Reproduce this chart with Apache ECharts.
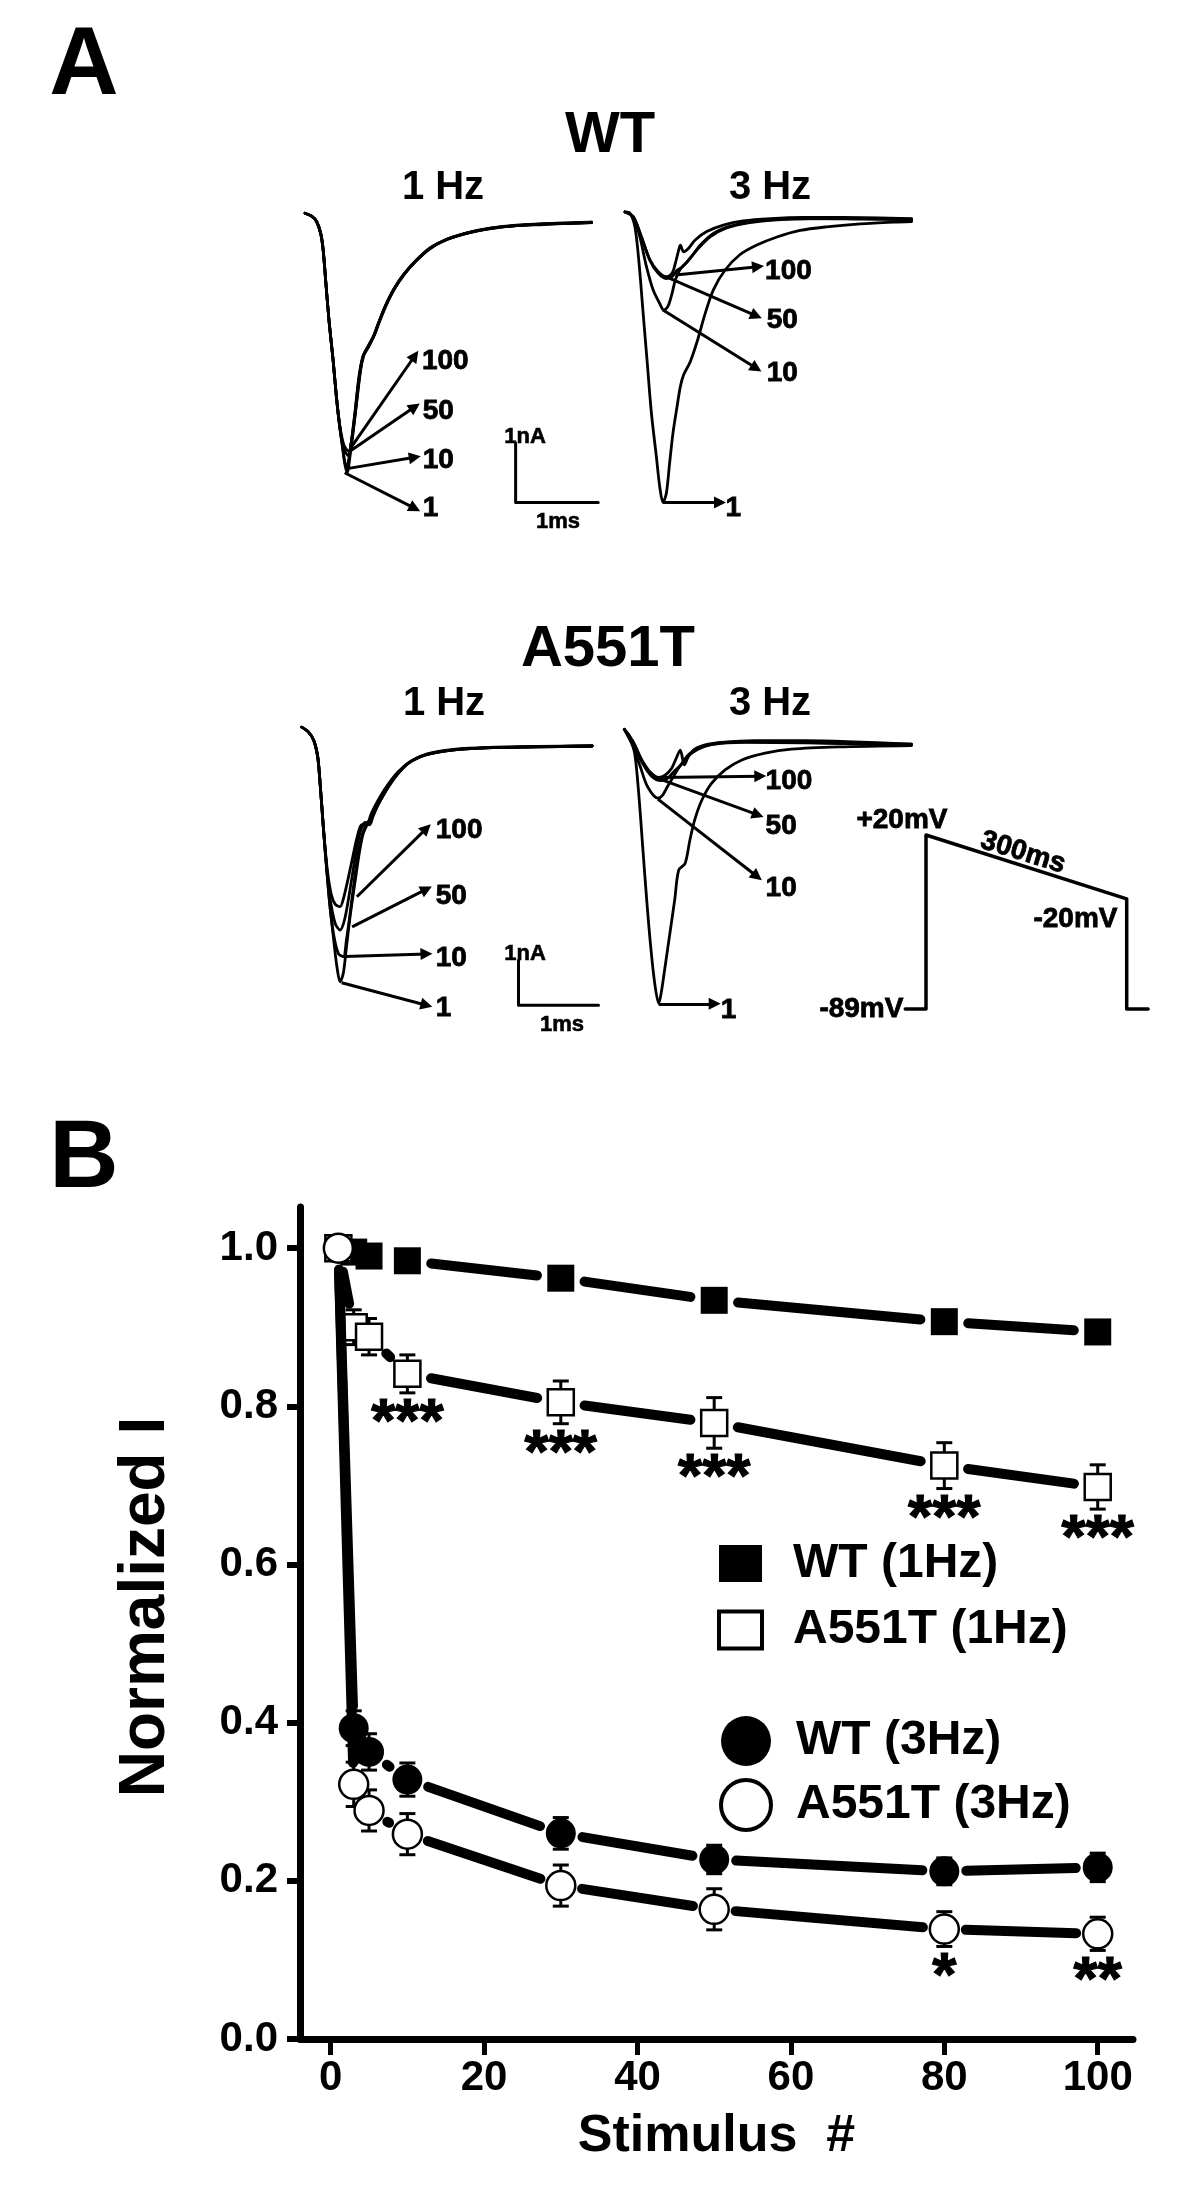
<!DOCTYPE html>
<html><head><meta charset="utf-8">
<script src="https://cdn.jsdelivr.net/npm/echarts@6/dist/echarts.min.js"></script>
<style>html,body{margin:0;padding:0;background:#fff}#chart{width:1200px;height:2201px}</style>
</head><body><div id="chart"></div>
<script>
const FONT = "'Liberation Sans', Arial, Helvetica, sans-serif";

// ---------------- Panel B data ----------------
const stimulus = [1, 3, 5, 10, 30, 50, 80, 100];
const xTicks = [0, 20, 40, 60, 80, 100];
const yTicks = [0, 0.2, 0.4, 0.6, 0.8, 1.0];
const wt1HzMean    = [1.000, 0.995, 0.990, 0.984, 0.962, 0.934, 0.907, 0.894];
const wt1HzSem     = [0, 0.005, 0.006, 0.007, 0.009, 0.008, 0.008, 0.008];
const a551t1HzMean = [1.000, 0.900, 0.888, 0.841, 0.805, 0.779, 0.725, 0.698];
const a551t1HzSem  = [0, 0.022, 0.023, 0.024, 0.027, 0.032, 0.029, 0.028];
const wt3HzMean    = [1.000, 0.393, 0.363, 0.328, 0.260, 0.227, 0.212, 0.217];
const wt3HzSem     = [0, 0.022, 0.023, 0.021, 0.020, 0.018, 0.017, 0.018];
const a551t3HzMean = [1.000, 0.322, 0.289, 0.259, 0.194, 0.164, 0.139, 0.133];
const a551t3HzSem  = [0, 0.028, 0.026, 0.026, 0.026, 0.026, 0.022, 0.021];
const starsA551T1Hz = [[10, '***'], [30, '***'], [50, '***'], [80, '***'], [100, '***']];
const starsA551T3Hz = [[80, '*'], [100, '**']];

// ---------------- Panel A data (time in ms, current in nA) ----------------
const wt1Hz_1 = [[0,0.16],[0.08,0.11],[0.14,0.02],[0.19,-0.18],[0.22,-0.46],[0.25,-0.97],[0.29,-1.64],[0.34,-2.31],[0.38,-2.93],[0.42,-3.43],[0.46,-3.83],[0.48,-4.05],[0.51,-4.21],[0.55,-3.88],[0.61,-3.21],[0.66,-2.59],[0.70,-2.26],[0.77,-2.09],[0.83,-1.92],[0.89,-1.69],[0.97,-1.41],[1.07,-1.13],[1.19,-0.88],[1.33,-0.66],[1.51,-0.43],[1.72,-0.28],[1.96,-0.17],[2.24,-0.09],[2.56,-0.05],[2.89,-0.02],[3.21,-0.01],[3.47,0]];
const wt1Hz_10 = [[0,0.16],[0.08,0.11],[0.14,0.02],[0.19,-0.18],[0.22,-0.46],[0.25,-0.97],[0.29,-1.64],[0.34,-2.31],[0.38,-2.93],[0.42,-3.43],[0.46,-3.83],[0.50,-4.13],[0.54,-3.90],[0.60,-3.25],[0.65,-2.62],[0.70,-2.26],[0.77,-2.08],[0.83,-1.91],[0.89,-1.69],[0.97,-1.41],[1.07,-1.14],[1.19,-0.89],[1.33,-0.66],[1.51,-0.44],[1.72,-0.28],[1.96,-0.18],[2.24,-0.10],[2.56,-0.05],[2.89,-0.03],[3.21,-0.01],[3.47,0]];
const wt1Hz_50 = [[0,0.16],[0.08,0.11],[0.14,0.02],[0.19,-0.18],[0.22,-0.46],[0.25,-0.97],[0.29,-1.64],[0.34,-2.31],[0.38,-2.93],[0.42,-3.43],[0.47,-3.80],[0.52,-3.92],[0.56,-3.70],[0.61,-3.15],[0.66,-2.56],[0.71,-2.24],[0.77,-2.06],[0.84,-1.89],[0.90,-1.67],[0.98,-1.40],[1.08,-1.12],[1.20,-0.87],[1.34,-0.65],[1.52,-0.43],[1.73,-0.28],[1.97,-0.17],[2.25,-0.10],[2.56,-0.05],[2.89,-0.02],[3.21,-0.01],[3.47,0.01]];
const wt1Hz_100 = [[0,0.16],[0.08,0.11],[0.14,0.02],[0.19,-0.18],[0.22,-0.46],[0.25,-0.97],[0.29,-1.64],[0.34,-2.31],[0.38,-2.93],[0.42,-3.40],[0.47,-3.74],[0.53,-3.85],[0.57,-3.62],[0.62,-3.08],[0.67,-2.52],[0.71,-2.22],[0.78,-2.05],[0.84,-1.88],[0.90,-1.66],[0.98,-1.39],[1.08,-1.11],[1.20,-0.86],[1.34,-0.64],[1.52,-0.42],[1.73,-0.27],[1.97,-0.17],[2.25,-0.09],[2.56,-0.04],[2.89,-0.02],[3.21,0],[3.47,0.01]];
const wt1HzArrows = [[0.55,-3.80,1.33,-2.24],[0.53,-3.86,1.33,-3.10],[0.51,-4.14,1.33,-3.95],[0.48,-4.21,1.33,-4.81]];
const wt1HzLabels = [[1.41,-2.34,'100'],[1.42,-3.18,'50'],[1.42,-4.00,'10'],[1.42,-4.80,'1']];
const wtScaleBar = [[2.55,-3.71],[2.55,-4.71],[3.55,-4.71]];

const wt3Hz_1 = [[0,0.18],[0.06,0.16],[0.12,-0.07],[0.17,-0.68],[0.22,-1.53],[0.27,-2.37],[0.32,-3.21],[0.38,-3.94],[0.42,-4.44],[0.46,-4.71],[0.50,-4.56],[0.54,-4.05],[0.58,-3.55],[0.63,-3.10],[0.67,-2.76],[0.71,-2.56],[0.79,-2.34],[0.88,-1.97],[0.97,-1.53],[1.07,-1.13],[1.21,-0.80],[1.39,-0.54],[1.59,-0.38],[1.84,-0.24],[2.12,-0.13],[2.44,-0.07],[2.85,-0.02],[3.25,0.01],[3.47,0.02]];
const wt3Hz_10 = [[0,0.18],[0.10,0.10],[0.18,-0.24],[0.26,-0.74],[0.34,-1.13],[0.42,-1.36],[0.47,-1.47],[0.52,-1.41],[0.57,-1.19],[0.61,-0.96],[0.67,-0.78],[0.75,-0.66],[0.87,-0.46],[1.03,-0.24],[1.23,-0.09],[1.51,0],[1.84,0.05],[2.24,0.07],[2.85,0.06],[3.47,0.05]];
const wt3Hz_50 = [[0,0.18],[0.10,0.10],[0.20,-0.24],[0.30,-0.63],[0.40,-0.85],[0.50,-0.94],[0.57,-0.91],[0.63,-0.80],[0.69,-0.75],[0.79,-0.60],[0.91,-0.38],[1.07,-0.18],[1.27,-0.06],[1.55,0.02],[1.92,0.06],[2.44,0.07],[3.47,0.06]];
const wt3Hz_100 = [[0,0.18],[0.10,0.10],[0.20,-0.25],[0.30,-0.62],[0.40,-0.82],[0.50,-0.91],[0.57,-0.85],[0.61,-0.68],[0.65,-0.46],[0.67,-0.38],[0.71,-0.49],[0.77,-0.43],[0.85,-0.29],[0.99,-0.15],[1.19,-0.04],[1.43,0.03],[1.76,0.07],[2.16,0.09],[2.64,0.09],[3.47,0.07]];
const wt3HzArrows = [[0.61,-0.88,1.61,-0.74],[0.50,-0.91,1.59,-1.57],[0.46,-1.47,1.59,-2.45],[0.46,-4.71,1.15,-4.71]];
const wt3HzLabels = [[1.69,-0.82,'100'],[1.71,-1.64,'50'],[1.71,-2.53,'10'],[1.21,-4.81,'1']];

const a1Hz_1 = [[0,0.42],[0.08,0.32],[0.15,0.13],[0.20,-0.24],[0.23,-0.83],[0.27,-1.79],[0.31,-2.68],[0.35,-3.50],[0.40,-4.31],[0.44,-4.90],[0.48,-5.24],[0.52,-5.05],[0.56,-4.46],[0.61,-3.72],[0.67,-2.98],[0.72,-2.38],[0.77,-1.94],[0.85,-1.64],[0.94,-1.35],[1.04,-1.02],[1.17,-0.68],[1.33,-0.38],[1.54,-0.20],[1.88,-0.09],[2.29,-0.04],[2.92,-0.02],[3.63,0]];
const a1Hz_10 = [[0,0.42],[0.08,0.32],[0.15,0.13],[0.20,-0.24],[0.23,-0.83],[0.27,-1.79],[0.31,-2.68],[0.35,-3.50],[0.40,-4.20],[0.46,-4.62],[0.52,-4.68],[0.56,-4.30],[0.61,-3.65],[0.66,-2.95],[0.71,-2.35],[0.76,-1.95],[0.82,-1.70],[0.88,-1.60],[0.95,-1.32],[1.05,-1.00],[1.18,-0.66],[1.34,-0.37],[1.55,-0.20],[1.89,-0.09],[2.30,-0.04],[2.92,-0.02],[3.63,0]];
const a1Hz_50 = [[0,0.42],[0.08,0.32],[0.15,0.13],[0.20,-0.24],[0.23,-0.83],[0.27,-1.79],[0.31,-2.68],[0.36,-3.45],[0.42,-3.95],[0.48,-4.09],[0.53,-3.90],[0.58,-3.45],[0.63,-2.90],[0.68,-2.35],[0.73,-1.92],[0.79,-1.70],[0.85,-1.75],[0.90,-1.50],[0.98,-1.22],[1.08,-0.92],[1.21,-0.60],[1.37,-0.34],[1.58,-0.18],[1.92,-0.08],[2.33,-0.04],[2.95,-0.02],[3.63,0]];
const a1Hz_100 = [[0,0.42],[0.08,0.32],[0.15,0.13],[0.20,-0.24],[0.23,-0.83],[0.27,-1.79],[0.32,-2.75],[0.37,-3.30],[0.42,-3.52],[0.48,-3.57],[0.52,-3.40],[0.58,-2.95],[0.64,-2.45],[0.69,-2.05],[0.75,-1.75],[0.81,-1.75],[0.87,-1.50],[0.95,-1.22],[1.06,-0.90],[1.20,-0.58],[1.37,-0.33],[1.58,-0.17],[1.92,-0.07],[2.33,-0.03],[2.95,-0.01],[3.63,0]];
const a1HzArrows = [[0.69,-3.35,1.56,-1.83],[0.63,-4.02,1.56,-3.18],[0.54,-4.68,1.56,-4.62],[0.50,-5.26,1.56,-5.76]];
const a1HzLabels = [[1.67,-1.88,'100'],[1.67,-3.35,'50'],[1.67,-4.72,'10'],[1.67,-5.83,'1']];
const a551tScaleBar = [[2.71,-4.76],[2.71,-5.76],[3.71,-5.76]];

const a3Hz_1 = [[0,0.37],[0.07,0.21],[0.13,-0.16],[0.18,-1.05],[0.23,-2.24],[0.28,-3.42],[0.33,-4.46],[0.38,-5.27],[0.43,-5.72],[0.46,-5.50],[0.51,-4.90],[0.57,-4.16],[0.63,-3.42],[0.68,-2.76],[0.76,-2.61],[0.82,-2.09],[0.88,-1.64],[0.97,-1.20],[1.09,-0.83],[1.26,-0.53],[1.47,-0.31],[1.76,-0.16],[2.09,-0.07],[2.68,-0.02],[3.59,0.01]];
const a3Hz_10 = [[0,0.37],[0.09,0.06],[0.20,-0.46],[0.29,-0.90],[0.42,-1.16],[0.48,-1.09],[0.54,-0.90],[0.60,-0.72],[0.69,-0.46],[0.81,-0.20],[1.00,-0.01],[1.25,0.08],[1.63,0.12],[2.25,0.12],[3.59,0.04]];
const a3Hz_50 = [[0,0.37],[0.11,0.04],[0.23,-0.39],[0.34,-0.67],[0.46,-0.77],[0.54,-0.72],[0.63,-0.55],[0.71,-0.42],[0.78,-0.24],[0.88,-0.09],[1.09,0.03],[1.51,0.08],[2.26,0.07],[3.59,0.03]];
const a3Hz_100 = [[0,0.37],[0.11,0.10],[0.22,-0.31],[0.32,-0.57],[0.43,-0.70],[0.51,-0.65],[0.59,-0.50],[0.65,-0.27],[0.70,-0.09],[0.75,-0.42],[0.80,-0.24],[0.88,-0.07],[1.05,0.04],[1.34,0.09],[1.84,0.09],[2.68,0.06],[3.59,0.04]];
const a3HzArrows = [[0.45,-0.70,1.70,-0.67],[0.42,-0.72,1.67,-1.53],[0.42,-1.18,1.66,-2.90],[0.43,-5.73,1.13,-5.73]];
const a3HzLabels = [[1.76,-0.79,'100'],[1.76,-1.78,'50'],[1.76,-3.16,'10'],[1.20,-5.87,'1']];

// voltage protocol (ms, mV)
const protocolTrace = [[-31,-89],[0,-89],[0,20],[300,-20],[300,-89],[332,-89]];
const protocolLabels = [['+20mV',-36,29],['300ms',145,9],['-20mV',287,-33],['-89mV',-33,-89]];

// ---------------- builders ----------------
const protocolLabelLayout = [
  {position:'inside'},
  {position:'inside', rotate:-17},
  {position:'left', distance:0},
  {position:'left', distance:0}
];
const heavy = {textBorderColor:'#000', textBorderWidth:0.8, opacity:1};
const invisible = {color:'rgba(0,0,0,0)', opacity:1, borderWidth:0};

function traceSeries(g, data, width, smooth) {
  return {type:'line', xAxisIndex:g, yAxisIndex:g, data, symbol:'none', showSymbol:false,
    smooth: smooth === undefined ? 0.3 : smooth, clip:false, silent:true, z:2,
    lineStyle:{color:'#000', width: width || 2.8, cap:'round', join:'round', opacity:1}};
}
function arrowSeries(g, arrows) {
  return {type:'lines', coordinateSystem:'cartesian2d', xAxisIndex:g, yAxisIndex:g, silent:true, z:3,
    data: arrows.map(a => ({coords:[[a[0],a[1]],[a[2],a[3]]]})),
    symbol:['none','triangle'], symbolSize:[0,12],
    lineStyle:{color:'#000', width:3, opacity:1, curveness:0}};
}
function labelSeries(g, labels) {
  return {type:'scatter', xAxisIndex:g, yAxisIndex:g, symbolSize:1, silent:true, z:4,
    itemStyle:invisible,
    data: labels.map(l => ({value:[l[0], l[1]], name:l[2]})),
    label:Object.assign({show:true, formatter: p => p.name, position:'right', distance:0,
      color:'#000', fontFamily:FONT, fontWeight:'bold', fontSize:28}, heavy)};
}
function connector(mean, r, z) {
  const data = stimulus.slice(0, -1).map((x, i) => [x, mean[i], stimulus[i+1], mean[i+1]]);
  return {type:'custom', xAxisIndex:5, yAxisIndex:5, z, silent:true, data,
    encode:{x:[0,2], y:[1,3]},
    renderItem(params, api) {
      const p0 = api.coord([api.value(0), api.value(1)]);
      const p1 = api.coord([api.value(2), api.value(3)]);
      const dx = p1[0]-p0[0], dy = p1[1]-p0[1];
      const L = Math.sqrt(dx*dx + dy*dy);
      const s = r + 7;
      if (L - 2*s <= 0) return null;
      const ux = dx/L, uy = dy/L;
      return {type:'line', shape:{x1:p0[0]+ux*s, y1:p0[1]+uy*s, x2:p1[0]-ux*s, y2:p1[1]-uy*s},
        style:{stroke:'#000', lineWidth:10, lineCap:'round'}};
    }};
}
function errorBars(mean, sem, z) {
  const data = stimulus.map((x, i) => [x, mean[i]-sem[i], mean[i]+sem[i]]).filter((d, i) => sem[i] > 0);
  return {type:'custom', xAxisIndex:5, yAxisIndex:5, z, silent:true, data,
    encode:{x:0, y:[1,2]},
    renderItem(params, api) {
      const lo = api.coord([api.value(0), api.value(1)]);
      const hi = api.coord([api.value(0), api.value(2)]);
      const w = 8;
      const st = () => ({stroke:'#000', lineWidth:3});
      return {type:'group', children:[
        {type:'line', shape:{x1:lo[0], y1:lo[1], x2:hi[0], y2:hi[1]}, style:st()},
        {type:'line', shape:{x1:lo[0]-w, y1:lo[1], x2:lo[0]+w, y2:lo[1]}, style:st()},
        {type:'line', shape:{x1:hi[0]-w, y1:hi[1], x2:hi[0]+w, y2:hi[1]}, style:st()}
      ]};
    }};
}
function markers(name, mean, symbol, size, filled, z) {
  return {type:'scatter', name, xAxisIndex:5, yAxisIndex:5, z, silent:true,
    data: stimulus.map((x, i) => [x, mean[i]]), symbol, symbolSize:size,
    itemStyle: filled ? {color:'#000', borderColor:'#000', borderWidth:0, opacity:1}
                      : {color:'#fff', borderColor:'#000', borderWidth:2.5, opacity:1}};
}
function starSeries(stars, mean, sem) {
  return {type:'scatter', xAxisIndex:5, yAxisIndex:5, symbolSize:1, silent:true, z:20,
    itemStyle:invisible,
    data: stars.map(([x, t]) => { const i = stimulus.indexOf(x); return {value:[x, mean[i]-sem[i]], name:t}; }),
    label:{show:true, formatter: p => p.name, position:'inside', offset:[0,31],
      color:'#000', fontFamily:FONT, fontWeight:'bold', fontSize:62, opacity:1,
      textBorderColor:'#000', textBorderWidth:1.2}};
}
function hiddenAxis(g, min, max) { return {gridIndex:g, type:'value', min, max, show:false, splitLine:{show:false}}; }
function gtext(text, x, y, size, border) {
  return {type:'text', x, y, silent:true, z:50,
    style:{text, fill:'#000', fontSize:size, fontWeight:'bold', fontFamily:FONT,
      stroke: border ? '#000' : null, lineWidth: border || 0,
      align:'center', verticalAlign:'middle', textAlign:'center', textVerticalAlign:'middle'}};
}

const protocolSeries = {type:'scatter', xAxisIndex:4, yAxisIndex:4, symbolSize:1, silent:true, z:4,
  itemStyle:invisible,
  data: protocolLabels.map((l, i) => ({value:[l[1], l[2]], name:l[0],
    label: Object.assign({show:true, formatter: p => p.name, color:'#000', fontFamily:FONT, fontWeight:'bold', fontSize:28}, heavy, protocolLabelLayout[i])}))};

const axisText = {color:'#000', fontFamily:FONT, fontWeight:'bold'};

const option = {
  animation:false,
  backgroundColor:'#fff',
  textStyle:{fontFamily:FONT},
  grid:[
    {left:305, top:207.85, width:297.36, height:311.85, containLabel:false, outerBoundsMode:'none'},
    {left:625, top:207.85, width:297.36, height:311.85, containLabel:false, outerBoundsMode:'none'},
    {left:301.7, top:723.5, width:304, height:301.5, containLabel:false, outerBoundsMode:'none'},
    {left:624.3, top:723.5, width:304, height:301.5, containLabel:false, outerBoundsMode:'none'},
    {left:899.24, top:819.08, width:254.22, height:207.48, containLabel:false, outerBoundsMode:'none'},
    {left:300, top:1207, width:833, height:832, containLabel:false, outerBoundsMode:'none'}
  ],
  xAxis:[
    hiddenAxis(0, 0, 3.6), hiddenAxis(1, 0, 3.6), hiddenAxis(2, 0, 3.8), hiddenAxis(3, 0, 3.8), hiddenAxis(4, -40, 340),
    {gridIndex:5, type:'value', min:-4, max:104.6,
      name:'Stimulus  #', nameLocation:'middle', nameGap:72,
      nameTextStyle:Object.assign({fontSize:52}, axisText),
      axisLine:{show:true, onZero:false, lineStyle:{color:'#000', width:7}},
      axisTick:{show:true, customValues:xTicks, length:16, lineStyle:{color:'#000', width:5}},
      axisLabel:Object.assign({show:true, customValues:xTicks, margin:18, fontSize:42}, axisText),
      splitLine:{show:false}}
  ],
  yAxis:[
    hiddenAxis(0, -5, 0.25), hiddenAxis(1, -5, 0.25), hiddenAxis(2, -6.2, 0.5), hiddenAxis(3, -6.2, 0.5), hiddenAxis(4, -100, 30),
    {gridIndex:5, type:'value', min:0, max:1.052,
      name:'Normalized I', nameLocation:'middle', nameGap:122,
      nameTextStyle:Object.assign({fontSize:64, padding:[0,0,0,32]}, axisText),
      axisLine:{show:true, onZero:false, lineStyle:{color:'#000', width:7}},
      axisTick:{show:true, customValues:yTicks, length:13, lineStyle:{color:'#000', width:6}},
      axisLabel:Object.assign({show:true, customValues:yTicks, margin:22, fontSize:42, formatter: v => v.toFixed(1)}, axisText),
      splitLine:{show:false}}
  ],
  legend:[
    {left:717, top:1539.5, orient:'vertical', padding:0, itemWidth:43, itemHeight:37, itemGap:18.5,
      selectedMode:false, symbolKeepAspect:false,
      textStyle:Object.assign({fontSize:48, padding:[0,0,0,26]}, axisText),
      data:[{name:'WT (1Hz)', icon:'rect'}, {name:'A551T (1Hz)', icon:'rect', itemStyle:{borderWidth:4}}]},
    {left:719, top:1716, orient:'vertical', padding:0, itemWidth:50, itemHeight:50, itemGap:12,
      selectedMode:false, symbolKeepAspect:false,
      textStyle:Object.assign({fontSize:48, padding:[0,0,0,20]}, axisText),
      data:[{name:'WT (3Hz)', icon:'circle'}, {name:'A551T (3Hz)', icon:'circle', itemStyle:{borderWidth:4}}]}
  ],
  graphic:[
    gtext('A', 84, 68, 96), gtext('B', 84, 1161, 96),
    gtext('WT', 610, 136, 58), gtext('A551T', 608, 650, 58),
    gtext('1 Hz', 443, 188, 40), gtext('3 Hz', 770, 188, 40),
    gtext('1 Hz', 444, 704, 40), gtext('3 Hz', 770, 704, 40),
    gtext('1nA', 525, 437, 22, 0.6), gtext('1ms', 558, 522, 22, 0.6),
    gtext('1nA', 525, 954, 22, 0.6), gtext('1ms', 562, 1025, 22, 0.6)
  ],
  series:[
    // WT 1 Hz
    traceSeries(0, wt1Hz_1), traceSeries(0, wt1Hz_10), traceSeries(0, wt1Hz_50), traceSeries(0, wt1Hz_100),
    arrowSeries(0, wt1HzArrows), labelSeries(0, wt1HzLabels), traceSeries(0, wtScaleBar, 3, false),
    // WT 3 Hz
    traceSeries(1, wt3Hz_1), traceSeries(1, wt3Hz_10), traceSeries(1, wt3Hz_50), traceSeries(1, wt3Hz_100),
    arrowSeries(1, wt3HzArrows), labelSeries(1, wt3HzLabels),
    // A551T 1 Hz
    traceSeries(2, a1Hz_1), traceSeries(2, a1Hz_10), traceSeries(2, a1Hz_50), traceSeries(2, a1Hz_100),
    arrowSeries(2, a1HzArrows), labelSeries(2, a1HzLabels), traceSeries(2, a551tScaleBar, 3, false),
    // A551T 3 Hz
    traceSeries(3, a3Hz_1), traceSeries(3, a3Hz_10), traceSeries(3, a3Hz_50), traceSeries(3, a3Hz_100),
    arrowSeries(3, a3HzArrows), labelSeries(3, a3HzLabels),
    // protocol
    traceSeries(4, protocolTrace, 3.5, false), protocolSeries,
    // Panel B
    connector(wt1HzMean, 17, 5), errorBars(wt1HzMean, wt1HzSem, 6), markers('WT (1Hz)', wt1HzMean, 'rect', 27, true, 7),
    connector(a551t1HzMean, 17, 8), errorBars(a551t1HzMean, a551t1HzSem, 9), markers('A551T (1Hz)', a551t1HzMean, 'rect', 26, false, 10),
    connector(wt3HzMean, 15, 11), errorBars(wt3HzMean, wt3HzSem, 12), markers('WT (3Hz)', wt3HzMean, 'circle', 30, true, 13),
    connector(a551t3HzMean, 14.5, 14), errorBars(a551t3HzMean, a551t3HzSem, 15), markers('A551T (3Hz)', a551t3HzMean, 'circle', 29, false, 16),
    starSeries(starsA551T1Hz, a551t1HzMean, a551t1HzSem),
    starSeries(starsA551T3Hz, a551t3HzMean, a551t3HzSem)
  ]
};

const chart = echarts.init(document.getElementById('chart'), null, {renderer:'canvas'});
chart.setOption(option);
</script></body></html>
